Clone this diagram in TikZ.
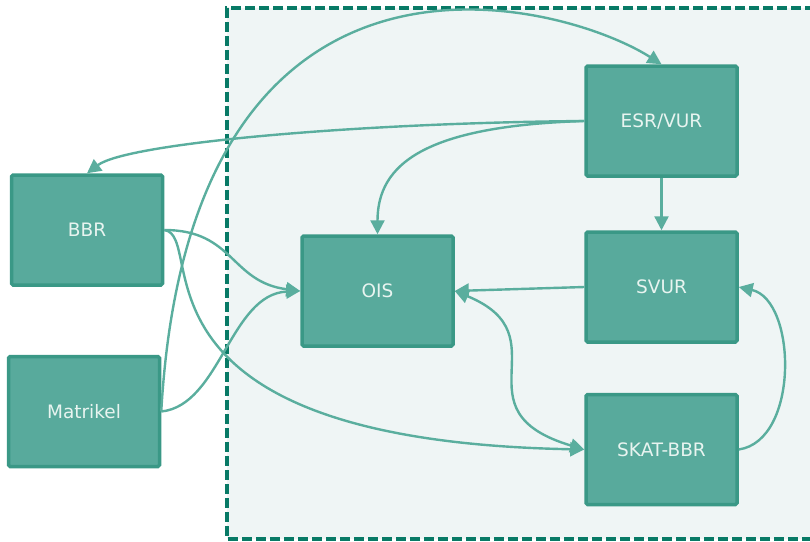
\documentclass[tikz,border=0pt]{standalone}
\usepackage{fontspec}
\setmainfont{DejaVu Sans}
\usetikzlibrary{arrows.meta,positioning}

\begin{document}
\begin{tikzpicture}[x=1pt, y=-1pt]
			\definecolor{boxFillColour}{RGB}{88, 170, 156}
			\definecolor{boxLineColour}{RGB}{58, 152, 134}
			\definecolor{linkColour}{RGB}{90, 174, 158}
			\definecolor{zoneColour}{RGB}{239, 245, 245}
			\definecolor{zoneLineColour}{RGB}{8, 122, 102}
			\definecolor{labelColour}{RGB}{232, 244, 240}
			\tikzstyle{system}=[rectangle, draw=boxLineColour, fill=boxFillColour, line width=3.5pt, rounded corners=1.5pt, minimum width=151pt, minimum height=110pt, text=labelColour, font=\fontsize{18.5}{22}\selectfont]
			\tikzstyle{link}=[color=linkColour, line width=2.4pt, -{Triangle[length=14pt, width=14pt]}]

			\useasboundingbox (0,0) rectangle (810,541);

			% the dashed zone
			\fill [zoneColour] (227,8) rectangle (815,539);
			\draw [zoneLineColour, line width=3.5pt, dash pattern=on 10pt off 4pt] (815,8) -- (227,8) -- (227,539) -- (815,539);

			\node [system] (bbr) at (87,230) {BBR};
			\node [system] (matrikel) at (84,411.5) {Matrikel};
			\node [system] (ois) at (377.5,291) {OIS};
			\node [system] (esr) at (661.5,121) {ESR/VUR};
			\node [system] (svur) at (661.5,287) {SVUR};
			\node [system] (skat) at (661.5,449.5) {SKAT-BBR};

			\draw [link] (esr.west) .. controls +(-230,2) and +(40,-30) .. (bbr.north);
			\draw [link] (esr.west) .. controls +(-160,5) and +(0,-70) .. (ois.north);
			\draw [link] (esr.south) -- (svur.north);
			\draw [link] (svur.west) -- (ois.east);
			\draw [link, {Triangle[length=14pt, width=14pt]}-{Triangle[length=14pt, width=14pt]}] (ois.east) .. controls +(110,45) and +(-131,-39) .. (skat.west);
			\draw [link] (skat.east) .. controls +(61,-9) and +(58,13) .. (svur.east);
			\draw [link] (bbr.east) .. controls +(70,0) and +(-70,-9) .. (ois.west);
			\draw [link] (bbr.east) .. controls +(45,6) and +(-474,-9) .. (skat.west);
			\draw [link] (matrikel.east) .. controls +(59,-6) and +(-70,3) .. (ois.west);
			\draw [link] (matrikel.east) .. controls +(29,-511) and +(-101,-64) .. (esr.north);
		\end{tikzpicture}
\end{document}
